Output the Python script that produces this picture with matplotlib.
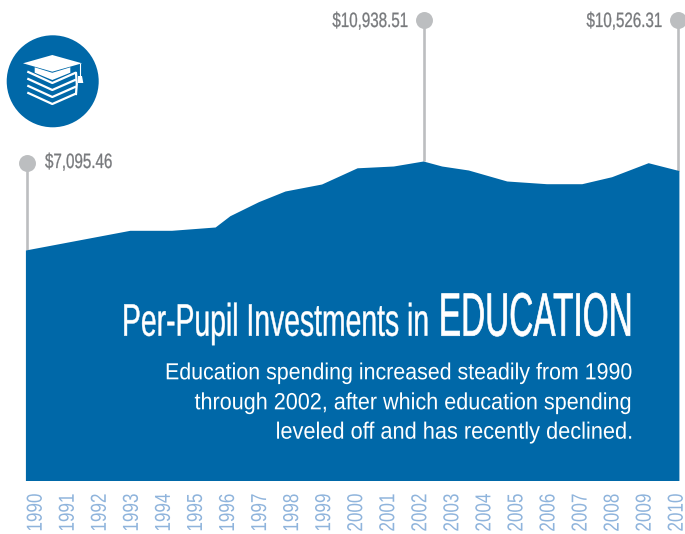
import matplotlib
matplotlib.use("Agg")
import matplotlib.pyplot as plt
from matplotlib.patches import Circle, Polygon
from matplotlib.patheffects import AbstractPathEffect
from matplotlib.transforms import Affine2D

# outline of the area, years are fractional because the knots are not on the labels
years = [1989.67, 1992.93, 1994.23, 1995.59, 1996.05, 1996.94, 1997.77, 1998.91,
         2000.02, 2001.15, 2002.08, 2002.66, 2003.49, 2004.69, 2005.93, 2007.03,
         2007.96, 2009.10, 2010.06]
spending = [7095.46, 7946, 7946, 8089, 8576, 9181, 9643, 9945,
            10645, 10722, 10938.51, 10722, 10550, 10075, 9958, 9958,
            10260, 10865, 10526.31]

tick_years = list(range(1990, 2011))

callout_years = [1989.73, 2002.12, 2010.02]
callout_tops = [10865, 17014, 17014]
callout_floors = [7095.46, 10938.51, 10526.31]
callout_labels = ["$7,095.46", "$10,938.51", "$10,526.31"]

title_left = "Per-Pupil Investments in"
title_right = "EDUCATION"
body_lines = ["Education spending increased steadily from 1990",
              "through 2002, after which education spending",
              "leveled off and has recently declined."]

BLUE = "#0068a8"
GRAY = "#bcbec0"
TEXT_GRAY = "#77797c"
TICK_BLUE = "#8fb4dc"
FONT = ["Liberation Sans", "DejaVu Sans"]

W, H = 685, 534


class Stretch(AbstractPathEffect):
    """Scale the glyphs around a pixel point, no condensed font is installed."""
    def __init__(self, sx, sy, x_px, y_px, stroke=0.0):
        super().__init__()
        self.sx, self.sy = sx, sy
        self.x_px, self.y_px = x_px, y_px
        self.stroke = stroke

    def draw_path(self, renderer, gc, tpath, affine, rgbFace=None):
        stretch = (Affine2D().translate(-self.x_px, -self.y_px)
                   .scale(self.sx, self.sy).translate(self.x_px, self.y_px))
        gc0 = renderer.new_gc()
        gc0.copy_properties(gc)
        gc0.set_linewidth(self.stroke)
        renderer.draw_path(gc0, tpath, affine + stretch, rgbFace)
        gc0.restore()


def label(x, y, s, size, color, ha, sy=1.0, stroke=0.0):
    t = fig.text(x / W, 1 - y / H, s, fontsize=size, color=color, ha=ha, va="baseline",
                 family=FONT)
    t.set_path_effects([Stretch(1, sy, x, H - y, stroke)])
    return t


fig = plt.figure(figsize=(W / 100, H / 100), dpi=100)
ax = fig.add_axes([0, (H - 480.5) / H, 1, 480.5 / H])
ax.set_xlim(1988.877, 2010.25)
ax.set_ylim(-2857.5, 17890.46)
for spine in ax.spines.values():
    spine.set_visible(False)
ax.set_yticks([])
ax.set_xticks(tick_years)
ax.set_xticklabels(tick_years, rotation=90, family=FONT, fontsize=12.3, color=TICK_BLUE)
ax.tick_params(axis="x", length=0, pad=9.4)
ax.patch.set_visible(False)
for year, tick in zip(tick_years, ax.get_xticklabels()):
    tick_px = ax.transData.transform((year, 0))[0]
    tick.set_path_effects([Stretch(1.27, 1, tick_px, 0)])

ax.fill_between(years, spending, -2857.5, color=BLUE, lw=0, zorder=3)

# callouts
for x, top, floor in zip(callout_years, callout_tops, callout_floors):
    ax.plot([x, x], [floor, top], color=GRAY, lw=1.9, zorder=2, solid_capstyle="butt")
    ax.plot([x], [top], "o", color=GRAY, ms=12.2, mew=0, zorder=2)

label(45, 168, callout_labels[0], 10.9, TEXT_GRAY, "left", 1.37, 0.2)
label(408, 27, callout_labels[1], 10.9, TEXT_GRAY, "right", 1.37, 0.2)
label(662, 27, callout_labels[2], 10.9, TEXT_GRAY, "right", 1.37, 0.2)

label(430, 335.7, title_left, 20.4, "white", "right", 1.61, 0.3)
label(633, 335.7, title_right, 24, "white", "right", 1.84, 0.5)
for line, size, base in zip(body_lines, [15.4, 15.55, 15.66], [379.3, 409.3, 438.7]):
    label(632, base, line, size, "white", "right", 1.086)

# graduation cap icon, drawn in pixel coordinates
to_px = Affine2D().scale(1 / W, -1 / H).translate(0, 1) + fig.transFigure
fig.add_artist(Circle((52.7, 81.3), 46, color=BLUE, lw=0, transform=to_px))
fig.add_artist(Polygon([(23, 63.3), (52.3, 55), (82, 63.3), (52.3, 71.7)],
                       color="white", lw=0, transform=to_px))
fig.add_artist(Polygon([(34.7, 67.3), (52.3, 72.8), (70.3, 67.3), (70.3, 72.7),
                        (52.3, 80), (34.7, 72.7)], color="white", lw=0, transform=to_px))
for dy in [0, 7, 14, 21]:
    fig.add_artist(plt.Line2D([28.3, 52.3, 75], [72 + dy, 83 + dy, 73 + dy],
                              color="white", lw=1.6, transform=to_px))
fig.add_artist(plt.Line2D([76, 76.8, 76], [73, 84, 94], color="white", lw=1.6, transform=to_px))
fig.add_artist(plt.Line2D([80, 80], [64, 76], color="white", lw=0.8, transform=to_px))
fig.add_artist(Polygon([(78, 76), (82, 76), (83.3, 83), (78, 83)], color="white", lw=0, transform=to_px))

fig.savefig("out.png", dpi=100)
